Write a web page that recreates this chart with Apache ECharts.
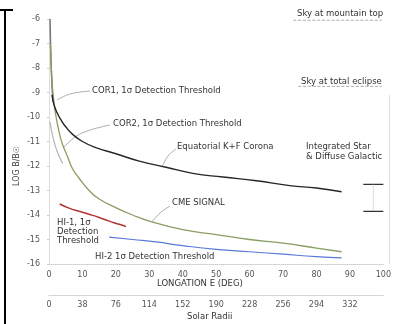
<!DOCTYPE html>
<html>
<head>
<meta charset="utf-8">
<script src="https://cdn.jsdelivr.net/npm/echarts@6/dist/echarts.min.js"></script>
<style>
html, body { margin: 0; padding: 0; background: #fff; }
#chartDom { width: 394px; height: 324px; }
</style>
</head>
<body>
<div id="chartDom"></div>
<script>
// elongation (deg) / log brightness
const coronaEl = [0.9, 1.5, 2.5, 3.5, 5, 7, 10, 14, 20, 27, 35, 43, 52, 62, 72, 80, 87.5];
const coronaVal = [-9.1, -9.5, -9.85, -10.1, -10.4, -10.7, -11.0, -11.25, -11.5, -11.8, -12.05, -12.3, -12.45, -12.6, -12.8, -12.9, -13.05];
const cor1El = [0.3, 0.45, 0.6, 0.8, 1.0, 1.2];
const cor1Val = [-6.0, -6.9, -7.7, -8.4, -9.0, -9.4];
const cor2El = [0.3, 0.8, 1.5, 2.3, 3.2, 4.1];
const cor2Val = [-10.2, -10.6, -11.0, -11.35, -11.65, -11.9];
const cmeEl = [0.4, 0.8, 1.3, 2, 3, 4, 5.5, 7, 9, 12, 15, 20, 25, 30, 40, 50, 60, 70, 80, 87.5];
const cmeVal = [-7.0, -8.3, -9.2, -9.9, -10.6, -11.1, -11.6, -12.1, -12.5, -13.0, -13.35, -13.7, -14.0, -14.25, -14.6, -14.8, -15.0, -15.15, -15.35, -15.5];
const hi1El = [3.2, 6, 9, 12, 15, 18, 21, 23];
const hi1Val = [-13.55, -13.72, -13.85, -13.97, -14.1, -14.25, -14.38, -14.47];
const hi2El = [18, 25, 32, 40, 50, 60, 70, 80, 87.5];
const hi2Val = [-14.9, -15.0, -15.1, -15.25, -15.4, -15.5, -15.6, -15.7, -15.75];
// integrated star & diffuse galactic range, sky levels
const galacticRange = [-12.75, -13.85];
const skyMountain = -6.05;
const skyEclipse = -8.75;
const radiiLabels = ["0", "38", "76", "114", "152", "190", "228", "256", "294", "332", ""];

const pairs = (xs, ys) => xs.map((x, i) => [x, ys[i]]);
const font = "DejaVu Sans";
const txt = (t, x, y, extra) => Object.assign({
  type: "text", x: x, y: y,
  style: { text: t, fill: "#333", font: "8.5px " + font, textVerticalAlign: "middle" }
}, extra || {});
const leader = (pts) => ({ type: "polyline", shape: { points: pts, smooth: 0.4 }, style: { stroke: "#999", lineWidth: 0.8, fill: null } });

let myChart = echarts.init(document.getElementById("chartDom"));
myChart.setOption({
  animation: false,
  grid: { left: 49, right: 5, top: 19, bottom: 60 },
  xAxis: [
    {
      type: "value", min: 0, max: 100, interval: 10, position: "bottom",
      axisLine: { lineStyle: { color: "#ccc", type: "dotted" } },
      axisTick: { show: false },
      splitLine: { show: false },
      axisLabel: { color: "#555", fontSize: 8, fontFamily: font, margin: 7 }
    },
    {
      type: "value", min: 0, max: 100, interval: 10, position: "bottom", offset: 31,
      axisLine: { show: true, lineStyle: { color: "#ccc", type: "dotted" } },
      axisTick: { show: false },
      splitLine: { show: false },
      axisLabel: { color: "#555", fontSize: 8, fontFamily: font, margin: 6,
        formatter: (v) => radiiLabels[Math.round(v / 10)] }
    }
  ],
  yAxis: {
    type: "value", min: -16, max: -6, interval: 1,
    axisLine: { show: true, lineStyle: { color: "#ddd" } },
    axisTick: { show: true, length: 2, lineStyle: { color: "#ccc" } },
    splitLine: { show: false },
    axisLabel: { color: "#555", fontSize: 8, fontFamily: font, margin: 9 }
  },
  series: [
    { name: "COR2", type: "line", smooth: true, symbol: "none", data: pairs(cor2El, cor2Val), lineStyle: { color: "#b5b5b5", width: 1.2 } },
    { name: "COR1", type: "line", smooth: true, symbol: "none", data: pairs(cor1El, cor1Val), lineStyle: { color: "#777", width: 1.5 } },
    { name: "CME", type: "line", smooth: true, symbol: "none", data: pairs(cmeEl, cmeVal), lineStyle: { color: "#8a9d62", width: 1.3 } },
    { name: "Corona", type: "line", smooth: true, symbol: "none", data: pairs(coronaEl, coronaVal), lineStyle: { color: "#262626", width: 1.4 } },
    { name: "HI-1", type: "line", smooth: true, symbol: "none", data: pairs(hi1El, hi1Val), lineStyle: { color: "#b03535", width: 1.5 } },
    { name: "HI-2", type: "line", smooth: true, symbol: "none", data: pairs(hi2El, hi2Val), lineStyle: { color: "#5a78d6", width: 1.2 } },
    // galactic range marker
    { type: "line", symbol: "none", data: [[94, galacticRange[0]], [100, galacticRange[0]]], lineStyle: { color: "#333", width: 1.2 } },
    { type: "line", symbol: "none", data: [[94, galacticRange[1]], [100, galacticRange[1]]], lineStyle: { color: "#333", width: 1.2 } },
    { type: "line", symbol: "none", data: [[97, galacticRange[0]], [97, galacticRange[1]]], lineStyle: { color: "#aaa", width: 0.8, type: "dotted" } },
    // sky level underlines
    { type: "line", symbol: "none", data: [[73, skyMountain], [99.5, skyMountain]], lineStyle: { color: "#999", width: 0.8, type: "dashed" } },
    { type: "line", symbol: "none", data: [[74.5, skyEclipse], [99.5, skyEclipse]], lineStyle: { color: "#999", width: 0.8, type: "dashed" } }
  ],
  graphic: [
    // frame bits
    { type: "line", shape: { x1: 0, y1: 10, x2: 13, y2: 10 }, style: { stroke: "#000", lineWidth: 2 } },
    { type: "line", shape: { x1: 5, y1: 10, x2: 5, y2: 324 }, style: { stroke: "#000", lineWidth: 2 } },
    { type: "line", shape: { x1: 389.5, y1: 95, x2: 389.5, y2: 264 }, style: { stroke: "#ddd", lineWidth: 1 } },
    // leaders
    leader([[90, 91], [70, 94], [57, 100]]),
    leader([[110, 125], [80, 134], [63, 148]]),
    leader([[176, 149], [168, 156], [162, 167]]),
    leader([[170, 206], [160, 213], [152, 222]]),
    // annotations
    txt("COR1, 1σ Detection Threshold", 92, 91),
    txt("COR2, 1σ Detection Threshold", 113, 124),
    txt("Equatorial K+F Corona", 177, 147),
    txt("CME SIGNAL", 172, 203),
    txt("HI-1, 1σ\nDetection\nThreshold", 57, 232, { style: { text: "HI-1, 1σ\nDetection\nThreshold", fill: "#333", font: "8.5px " + font, textVerticalAlign: "middle", lineHeight: 9 } }),
    txt("HI-2 1σ Detection Threshold", 95, 257),
    txt("Sky at mountain top", 297, 14),
    txt("Sky at total eclipse", 301, 82),
    txt("Integrated Star\n& Diffuse Galactic", 306, 152, { style: { text: "Integrated Star\n& Diffuse Galactic", fill: "#333", font: "8.5px " + font, textVerticalAlign: "middle", lineHeight: 10 } }),
    txt("LONGATION E (DEG)", 157, 284),
    txt("Solar Radii", 187, 317),
    { type: "text", x: 17, y: 166, rotation: Math.PI / 2,
      style: { text: "LOG B/B☉", fill: "#444", font: "8px " + font, textAlign: "center", textVerticalAlign: "middle" } }
  ]
});
</script>
</body>
</html>
